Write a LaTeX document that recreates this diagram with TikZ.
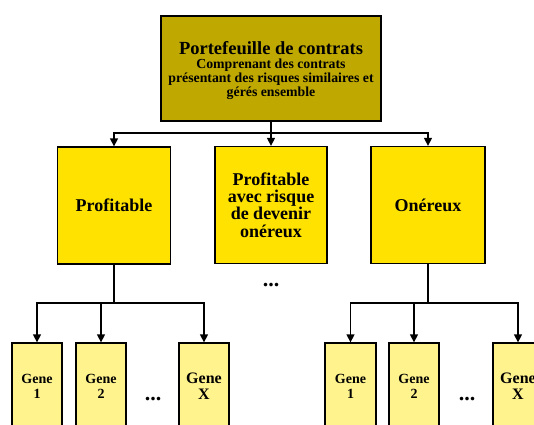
\documentclass[tikz,border=0pt]{standalone}
\usepackage{fontspec}
\setmainfont{Liberation Serif}
\usetikzlibrary{arrows.meta}
\definecolor{topfill}{HTML}{BFA800}
\definecolor{midfill}{HTML}{FFE200}
\definecolor{lowfill}{HTML}{FFF38E}
\tikzset{
  box/.style={draw=black, line width=1.3pt, inner sep=0pt, align=center, font=\bfseries},
  topbox/.style={box, fill=topfill, minimum width=220pt, minimum height=105pt},
  toptxt/.style={align=center, inner sep=0pt, font=\bfseries\fontsize{13.8}{14.2}\selectfont},
  midbox/.style={box, fill=midfill, minimum width=113pt, minimum height=117pt, font=\bfseries\fontsize{18}{17.3}\selectfont},
  genebox/.style={box, fill=lowfill, minimum width=50pt, minimum height=100pt},
  genetxt/.style={align=center, inner sep=0pt, font=\bfseries\fontsize{14}{15}\selectfont},
  genetxtx/.style={align=center, inner sep=0pt, font=\bfseries\fontsize{16}{16}\selectfont},
  dots/.style={inner sep=0pt, font=\bfseries\fontsize{22}{22}\selectfont},
  conn/.style={line width=1.3pt, draw=black},
  arr/.style={conn, -{Triangle[length=8pt,width=8pt]}}
}
\begin{document}
\begin{tikzpicture}[x=1pt,y=-1pt]
\useasboundingbox (0,0) rectangle (534,424);
\clip (0,0) rectangle (534,424);
\fill[white] (0,0) rectangle (534,424);

% top
\node[topbox] (top) at (271,68.5) {};
\node[toptxt] (toptext) at (271,70.5)
  {{\fontsize{18.5}{19}\selectfont Portefeuille de contrats}\\Comprenant des contrats\\présentant des risques similaires et\\gérés ensemble};

% middle
\node[midbox] (mL) at (114,205.5) {Profitable};
\node[midbox, minimum width=112pt] (mM) at (271,205) {Profitable\\avec risque\\de devenir\\onéreux};
\node[midbox, minimum width=114pt] (mR) at (428,205) {Onéreux};
\node[dots] (dmid) at (271,285) {...};

% bus top
\coordinate (bus) at (271,133);
\draw[conn] (top.south) -- (bus);
\draw[arr] (bus) -| (mL.north);
\draw[arr] (bus) -- (mM.north);
\draw[arr] (bus) -| (mR.north);

% bottom boxes left
\node[genebox] (gL1) at (37,393) {};
\node[genebox] (gL2) at (101,393) {};
\node[genebox] (gLX) at (204,393) {};
\node[genetxt] at (37,386.5) {Gene\\1};
\node[genetxt] at (101,386.5) {Gene\\2};
\node[genetxtx] at (204,386.5) {Gene\\X};
\node[dots] (dL) at (153,399) {...};

% bottom boxes right
\node[genebox, minimum width=51pt] (gR1) at (350.5,393) {};
\node[genebox] (gR2) at (414,393) {};
\node[genebox] (gRX) at (518,393) {};
\node[genetxt] at (350.5,386.5) {Gene\\1};
\node[genetxt] at (414,386.5) {Gene\\2};
\node[genetxtx] at (518,386.5) {Gene\\X};
\node[dots] (dR) at (467,399) {...};

% bus left
\coordinate (busL) at (114,303);
\draw[conn] (mL.south) -- (busL);
\draw[arr] (busL) -| (gL1.north);
\draw[arr] (busL) -| (gL2.north);
\draw[arr] (busL) -| (gLX.north);

% bus right
\coordinate (busR) at (428,303);
\draw[conn] (mR.south) -- (busR);
\draw[arr] (busR) -| (gR1.north);
\draw[arr] (busR) -| (gR2.north);
\draw[arr] (busR) -| (gRX.north);
\end{tikzpicture}
\end{document}
